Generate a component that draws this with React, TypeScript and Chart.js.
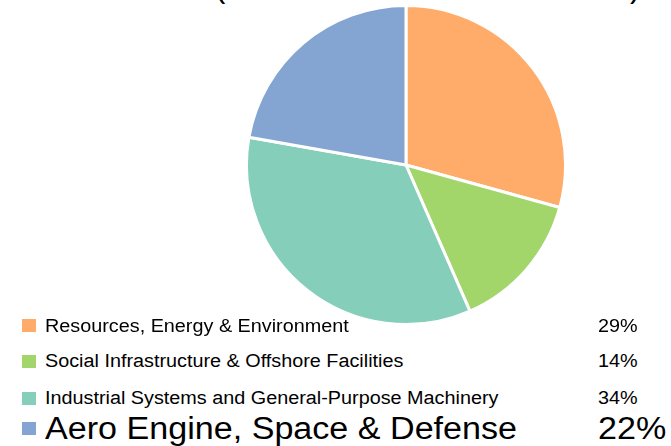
import React, { useEffect, useRef } from "react";
import { Chart, registerables } from "chart.js";

Chart.register(...registerables);

const categories = [
  "Resources, Energy & Environment",
  "Social Infrastructure & Offshore Facilities",
  "Industrial Systems and General-Purpose Machinery",
  "Aero Engine, Space & Defense",
];
const shares = [29, 14, 34, 22];
const shareLabels = ["29%", "14%", "34%", "22%"];
const colors = ["#FFAB6A", "#A2D56A", "#84CEBA", "#84A5D2"];

const FONT = '"Liberation Sans", Arial, sans-serif';

export default function App() {
  const ref = useRef<HTMLCanvasElement | null>(null);

  useEffect(() => {
    if (!ref.current) return;
    const chart = new Chart(ref.current, {
      type: "pie",
      data: {
        labels: categories,
        datasets: [
          {
            data: shares,
            backgroundColor: colors,
            borderColor: "#ffffff",
            borderWidth: 3,
          },
        ],
      },
      options: {
        responsive: false,
        animation: false,
        layout: { padding: 0 },
        plugins: {
          legend: { display: false },
          tooltip: { enabled: false },
          title: { display: false },
        },
      },
    });
    return () => chart.destroy();
  }, []);

  const rowBaselines = [332, 367, 404, 439];
  const rowSizes = [18, 18, 18, 31];
  const squareTops = [319, 355, 392, 422];

  return (
    <div
      style={{
        position: "fixed",
        left: 0,
        top: 0,
        width: 671,
        height: 446,
        overflow: "hidden",
        background: "#ffffff",
        fontFamily: FONT,
      }}
    >
      <span
        style={{
          position: "absolute",
          left: 215,
          top: -31,
          fontSize: 31,
          lineHeight: "36px",
          color: "#000",
        }}
      >
        (
      </span>
      <span
        style={{
          position: "absolute",
          left: 630,
          top: -31,
          fontSize: 31,
          lineHeight: "36px",
          color: "#000",
        }}
      >
        )
      </span>
      <canvas
        ref={ref}
        width={322}
        height={322}
        style={{ position: "absolute", left: 245, top: 4, width: 322, height: 322 }}
      />
      {categories.map((c, i) => (
        <React.Fragment key={c}>
          <div
            style={{
              position: "absolute",
              left: 22,
              top: squareTops[i],
              width: 14,
              height: 13,
              background: colors[i],
            }}
          />
          <div
            style={{
              position: "absolute",
              left: 45,
              top: rowBaselines[i] - Math.round(rowSizes[i] * 0.8465),
              fontSize: rowSizes[i],
              lineHeight: `${rowSizes[i]}px`,
              whiteSpace: "nowrap",
              transform: "scaleX(1.1)",
              transformOrigin: "left top",
              color: "#000",
            }}
          >
            {c}
          </div>
          <div
            style={{
              position: "absolute",
              left: 598,
              top: rowBaselines[i] - Math.round(rowSizes[i] * 0.8465),
              fontSize: rowSizes[i],
              lineHeight: `${rowSizes[i]}px`,
              whiteSpace: "nowrap",
              transform: "scaleX(1.1)",
              transformOrigin: "left top",
              color: "#000",
            }}
          >
            {shareLabels[i]}
          </div>
        </React.Fragment>
      ))}
    </div>
  );
}
